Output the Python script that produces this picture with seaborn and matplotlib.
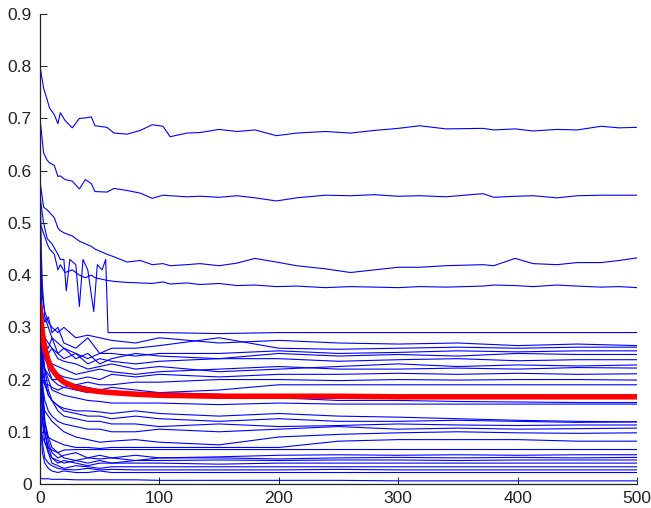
import numpy as np
import pandas as pd
import seaborn as sns
import matplotlib
matplotlib.use("Agg")
import matplotlib.pyplot as plt

iters = [0, 1, 2, 4, 7, 10, 15, 20, 30, 40, 50, 60, 80, 100, 150, 200, 250, 300, 350, 400, 450, 500]
# denser reading for the four upper curves
iters_top = [0, 3, 6, 8, 12, 15, 17, 21, 27, 33, 38, 43, 46, 56, 62, 73, 84, 94, 103, 109, 123, 134,
             150, 165, 180, 198, 215, 239, 260, 280, 300, 318, 340, 371, 380, 398, 413, 433, 450, 470, 485, 500]
# the curve that hops between 0.43 and 0.33 before falling to 0.29
iters_step = [0, 3, 6, 10, 15, 17, 20, 22, 25, 30, 33, 36, 40, 45, 48, 52, 55, 57, 60, 100, 150, 200, 300, 400, 500]

run_01 = [0.800, 0.758, 0.736, 0.720, 0.707, 0.690, 0.711, 0.696, 0.682, 0.700, 0.701, 0.703, 0.686, 0.683,
          0.672, 0.670, 0.677, 0.688, 0.685, 0.665, 0.672, 0.673, 0.679, 0.675, 0.678, 0.667, 0.672, 0.675,
          0.672, 0.677, 0.681, 0.686, 0.680, 0.681, 0.678, 0.680, 0.676, 0.679, 0.678, 0.685, 0.682, 0.683]
run_02 = [0.700, 0.634, 0.620, 0.615, 0.610, 0.589, 0.590, 0.583, 0.580, 0.565, 0.583, 0.575, 0.560, 0.559,
          0.566, 0.562, 0.557, 0.547, 0.553, 0.552, 0.550, 0.551, 0.549, 0.552, 0.548, 0.542, 0.548, 0.553,
          0.552, 0.554, 0.551, 0.552, 0.550, 0.556, 0.549, 0.551, 0.552, 0.548, 0.552, 0.553, 0.553, 0.553]
run_03 = [0.580, 0.530, 0.525, 0.520, 0.510, 0.490, 0.485, 0.480, 0.475, 0.465, 0.460, 0.455, 0.450, 0.440,
          0.435, 0.425, 0.428, 0.420, 0.422, 0.418, 0.420, 0.422, 0.418, 0.423, 0.432, 0.425, 0.418, 0.412,
          0.405, 0.410, 0.415, 0.415, 0.418, 0.420, 0.418, 0.432, 0.422, 0.420, 0.424, 0.424, 0.428, 0.433]
run_04 = [0.500, 0.480, 0.460, 0.450, 0.440, 0.410, 0.420, 0.405, 0.410, 0.400, 0.395, 0.400, 0.395, 0.390,
          0.388, 0.386, 0.385, 0.384, 0.387, 0.383, 0.385, 0.382, 0.384, 0.380, 0.381, 0.378, 0.379, 0.376,
          0.378, 0.377, 0.376, 0.378, 0.377, 0.379, 0.381, 0.380, 0.378, 0.381, 0.379, 0.377, 0.378, 0.376]
run_05 = [0.55, 0.50, 0.47, 0.46, 0.44, 0.43, 0.43, 0.37, 0.43, 0.42, 0.34, 0.43, 0.41, 0.33, 0.42, 0.41,
          0.43, 0.29, 0.29, 0.29, 0.288, 0.29, 0.29, 0.29, 0.29]
run_06 = [0.45, 0.40, 0.36, 0.33, 0.31, 0.30, 0.29, 0.30, 0.28, 0.285, 0.28, 0.275, 0.27, 0.28, 0.27, 0.275, 0.27, 0.268, 0.27, 0.265, 0.268, 0.265]
run_07 = [0.40, 0.35, 0.33, 0.31, 0.32, 0.29, 0.30, 0.27, 0.26, 0.28, 0.25, 0.26, 0.26, 0.265, 0.28, 0.26, 0.258, 0.26, 0.262, 0.26, 0.262, 0.262]
run_08 = [0.62, 0.45, 0.38, 0.32, 0.30, 0.28, 0.27, 0.26, 0.25, 0.24, 0.25, 0.25, 0.245, 0.25, 0.25, 0.255, 0.25, 0.252, 0.255, 0.253, 0.255, 0.255]
run_09 = [0.30, 0.29, 0.28, 0.27, 0.26, 0.28, 0.25, 0.26, 0.24, 0.25, 0.23, 0.24, 0.25, 0.245, 0.24, 0.25, 0.245, 0.248, 0.245, 0.25, 0.248, 0.248]
run_10 = [0.35, 0.32, 0.30, 0.28, 0.27, 0.26, 0.25, 0.24, 0.25, 0.23, 0.24, 0.235, 0.23, 0.235, 0.24, 0.24, 0.235, 0.238, 0.24, 0.236, 0.238, 0.238]
run_11 = [0.38, 0.33, 0.30, 0.27, 0.25, 0.26, 0.24, 0.235, 0.23, 0.22, 0.225, 0.23, 0.22, 0.225, 0.215, 0.22, 0.225, 0.23, 0.225, 0.228, 0.226, 0.228]
run_12 = [0.28, 0.27, 0.26, 0.25, 0.24, 0.23, 0.225, 0.22, 0.21, 0.215, 0.22, 0.215, 0.21, 0.215, 0.22, 0.225, 0.22, 0.22, 0.222, 0.22, 0.223, 0.222]
run_13 = [0.30, 0.28, 0.26, 0.24, 0.23, 0.22, 0.21, 0.205, 0.20, 0.205, 0.20, 0.21, 0.205, 0.21, 0.205, 0.21, 0.21, 0.212, 0.21, 0.212, 0.21, 0.211]
run_14 = [0.26, 0.25, 0.24, 0.22, 0.21, 0.20, 0.20, 0.195, 0.19, 0.195, 0.19, 0.19, 0.195, 0.195, 0.20, 0.20, 0.198, 0.20, 0.199, 0.20, 0.20, 0.199]
run_15 = [0.22, 0.21, 0.20, 0.19, 0.19, 0.185, 0.18, 0.185, 0.19, 0.185, 0.18, 0.185, 0.18, 0.175, 0.18, 0.19, 0.19, 0.19, 0.19, 0.19, 0.19, 0.19]
run_16 = [0.35, 0.30, 0.25, 0.22, 0.20, 0.18, 0.175, 0.17, 0.165, 0.16, 0.158, 0.155, 0.155, 0.155, 0.152, 0.155, 0.153, 0.153, 0.153, 0.153, 0.153, 0.153]
run_17 = [0.30, 0.25, 0.22, 0.19, 0.17, 0.16, 0.15, 0.14, 0.135, 0.13, 0.13, 0.125, 0.13, 0.125, 0.12, 0.125, 0.12, 0.12, 0.122, 0.12, 0.118, 0.119]
run_18 = [0.40, 0.32, 0.27, 0.22, 0.18, 0.16, 0.14, 0.13, 0.125, 0.12, 0.12, 0.115, 0.115, 0.11, 0.115, 0.11, 0.112, 0.115, 0.113, 0.112, 0.113, 0.113]
run_19 = [0.25, 0.22, 0.19, 0.16, 0.14, 0.13, 0.12, 0.115, 0.11, 0.105, 0.105, 0.10, 0.10, 0.105, 0.10, 0.105, 0.11, 0.105, 0.107, 0.105, 0.106, 0.107]
run_20 = [0.20, 0.18, 0.16, 0.14, 0.13, 0.12, 0.11, 0.10, 0.09, 0.085, 0.08, 0.082, 0.085, 0.08, 0.075, 0.09, 0.095, 0.098, 0.10, 0.098, 0.097, 0.098]
run_21 = [0.15, 0.14, 0.12, 0.10, 0.09, 0.085, 0.08, 0.075, 0.07, 0.07, 0.068, 0.07, 0.07, 0.07, 0.07, 0.07, 0.082, 0.085, 0.085, 0.085, 0.082, 0.082]
run_22 = [0.12, 0.10, 0.09, 0.08, 0.07, 0.065, 0.06, 0.065, 0.066, 0.066, 0.066, 0.066, 0.066, 0.066, 0.066, 0.066, 0.066, 0.066, 0.066, 0.066, 0.066, 0.066]
run_23 = [0.35, 0.25, 0.18, 0.12, 0.08, 0.06, 0.05, 0.055, 0.06, 0.05, 0.055, 0.05, 0.055, 0.05, 0.052, 0.055, 0.056, 0.055, 0.056, 0.055, 0.056, 0.056]
run_24 = [0.40, 0.30, 0.20, 0.12, 0.09, 0.07, 0.06, 0.05, 0.045, 0.05, 0.048, 0.05, 0.045, 0.05, 0.05, 0.048, 0.05, 0.051, 0.05, 0.051, 0.05, 0.051]
run_25 = [0.30, 0.22, 0.15, 0.10, 0.07, 0.05, 0.045, 0.04, 0.045, 0.04, 0.045, 0.04, 0.045, 0.045, 0.046, 0.045, 0.046, 0.046, 0.045, 0.046, 0.046, 0.046]
run_26 = [0.25, 0.18, 0.12, 0.08, 0.06, 0.05, 0.04, 0.045, 0.04, 0.035, 0.04, 0.04, 0.04, 0.04, 0.038, 0.04, 0.04, 0.04, 0.04, 0.04, 0.04, 0.04]
run_27 = [0.45, 0.30, 0.18, 0.10, 0.06, 0.04, 0.035, 0.03, 0.035, 0.033, 0.03, 0.033, 0.033, 0.033, 0.033, 0.033, 0.033, 0.033, 0.033, 0.033, 0.033, 0.033]
run_28 = [0.20, 0.12, 0.08, 0.05, 0.04, 0.035, 0.03, 0.028, 0.027, 0.03, 0.027, 0.028, 0.027, 0.027, 0.027, 0.027, 0.028, 0.027, 0.027, 0.027, 0.027, 0.027]
run_29 = [0.15, 0.10, 0.06, 0.04, 0.03, 0.025, 0.022, 0.025, 0.022, 0.022, 0.025, 0.022, 0.022, 0.022, 0.022, 0.022, 0.022, 0.022, 0.022, 0.022, 0.022, 0.022]
run_30 = [0.011, 0.011, 0.010, 0.010, 0.010, 0.009, 0.009, 0.009, 0.008, 0.008, 0.008, 0.008, 0.008, 0.007, 0.007, 0.007, 0.007, 0.006, 0.006, 0.006, 0.006, 0.006]
run_31 = [0.55, 0.40, 0.30, 0.25, 0.22, 0.20, 0.19, 0.185, 0.18, 0.175, 0.18, 0.178, 0.175, 0.175, 0.172, 0.165, 0.16, 0.16, 0.158, 0.157, 0.156, 0.156]
run_32 = [0.50, 0.35, 0.25, 0.20, 0.17, 0.16, 0.15, 0.145, 0.14, 0.14, 0.138, 0.135, 0.14, 0.135, 0.13, 0.135, 0.13, 0.128, 0.125, 0.122, 0.12, 0.119]

mean_run = [0.34, 0.31, 0.29, 0.26, 0.235, 0.22, 0.205, 0.195, 0.185, 0.18, 0.177, 0.175, 0.172, 0.17, 0.168, 0.168, 0.168, 0.167, 0.167, 0.167, 0.167, 0.167]

runs_top = [run_01, run_02, run_03, run_04]
runs = [run_06, run_07, run_08, run_09, run_10, run_11, run_12, run_13,
        run_14, run_15, run_16, run_17, run_18, run_19, run_20, run_21,
        run_22, run_23, run_24, run_25, run_26, run_27, run_28, run_29,
        run_30, run_31, run_32]

frames = []
for i, r in enumerate(runs_top):
    frames.append(pd.DataFrame({"iter": iters_top, "value": r, "run": "top%d" % i}))
frames.append(pd.DataFrame({"iter": iters_step, "value": run_05, "run": "step"}))
for i, r in enumerate(runs):
    frames.append(pd.DataFrame({"iter": iters, "value": r, "run": "r%d" % i}))
df = pd.concat(frames)
df_mean = pd.DataFrame({"iter": iters, "value": mean_run})

sns.set_style("white")
plt.rcParams['font.family'] = ['Liberation Sans', 'DejaVu Sans']

fig = plt.figure(figsize=(6.51, 5.08), dpi=100)
ax = fig.add_axes([40 / 651, 24 / 508, 597 / 651, 470 / 508])

sns.lineplot(data=df, x="iter", y="value", units="run", estimator=None, sort=False,
             color="#0000ff", linewidth=0.8, ax=ax)
sns.lineplot(data=df_mean, x="iter", y="value", color="#ff0000",
             linewidth=4, ax=ax)

ax.set_xlim(0, 500)
ax.set_ylim(0, 0.9)
ax.set_xticks([0, 100, 200, 300, 400, 500])
ax.set_yticks(np.arange(0, 0.91, 0.1))
ax.set_yticklabels(["0", "0.1", "0.2", "0.3", "0.4", "0.5", "0.6", "0.7", "0.8", "0.9"])
ax.set_xlabel("")
ax.set_ylabel("")
for s in ["top", "right"]:
    ax.spines[s].set_visible(False)
for s in ["left", "bottom"]:
    ax.spines[s].set_color("#222222")
    ax.spines[s].set_linewidth(0.9)
ax.tick_params(direction="in", length=5, width=0.7, labelsize=12.5,
               colors="#222222", left=True, bottom=True)
ax.tick_params(axis="x", pad=5)
ax.tick_params(axis="y", pad=6)

fig.savefig("out.png", dpi=100)
